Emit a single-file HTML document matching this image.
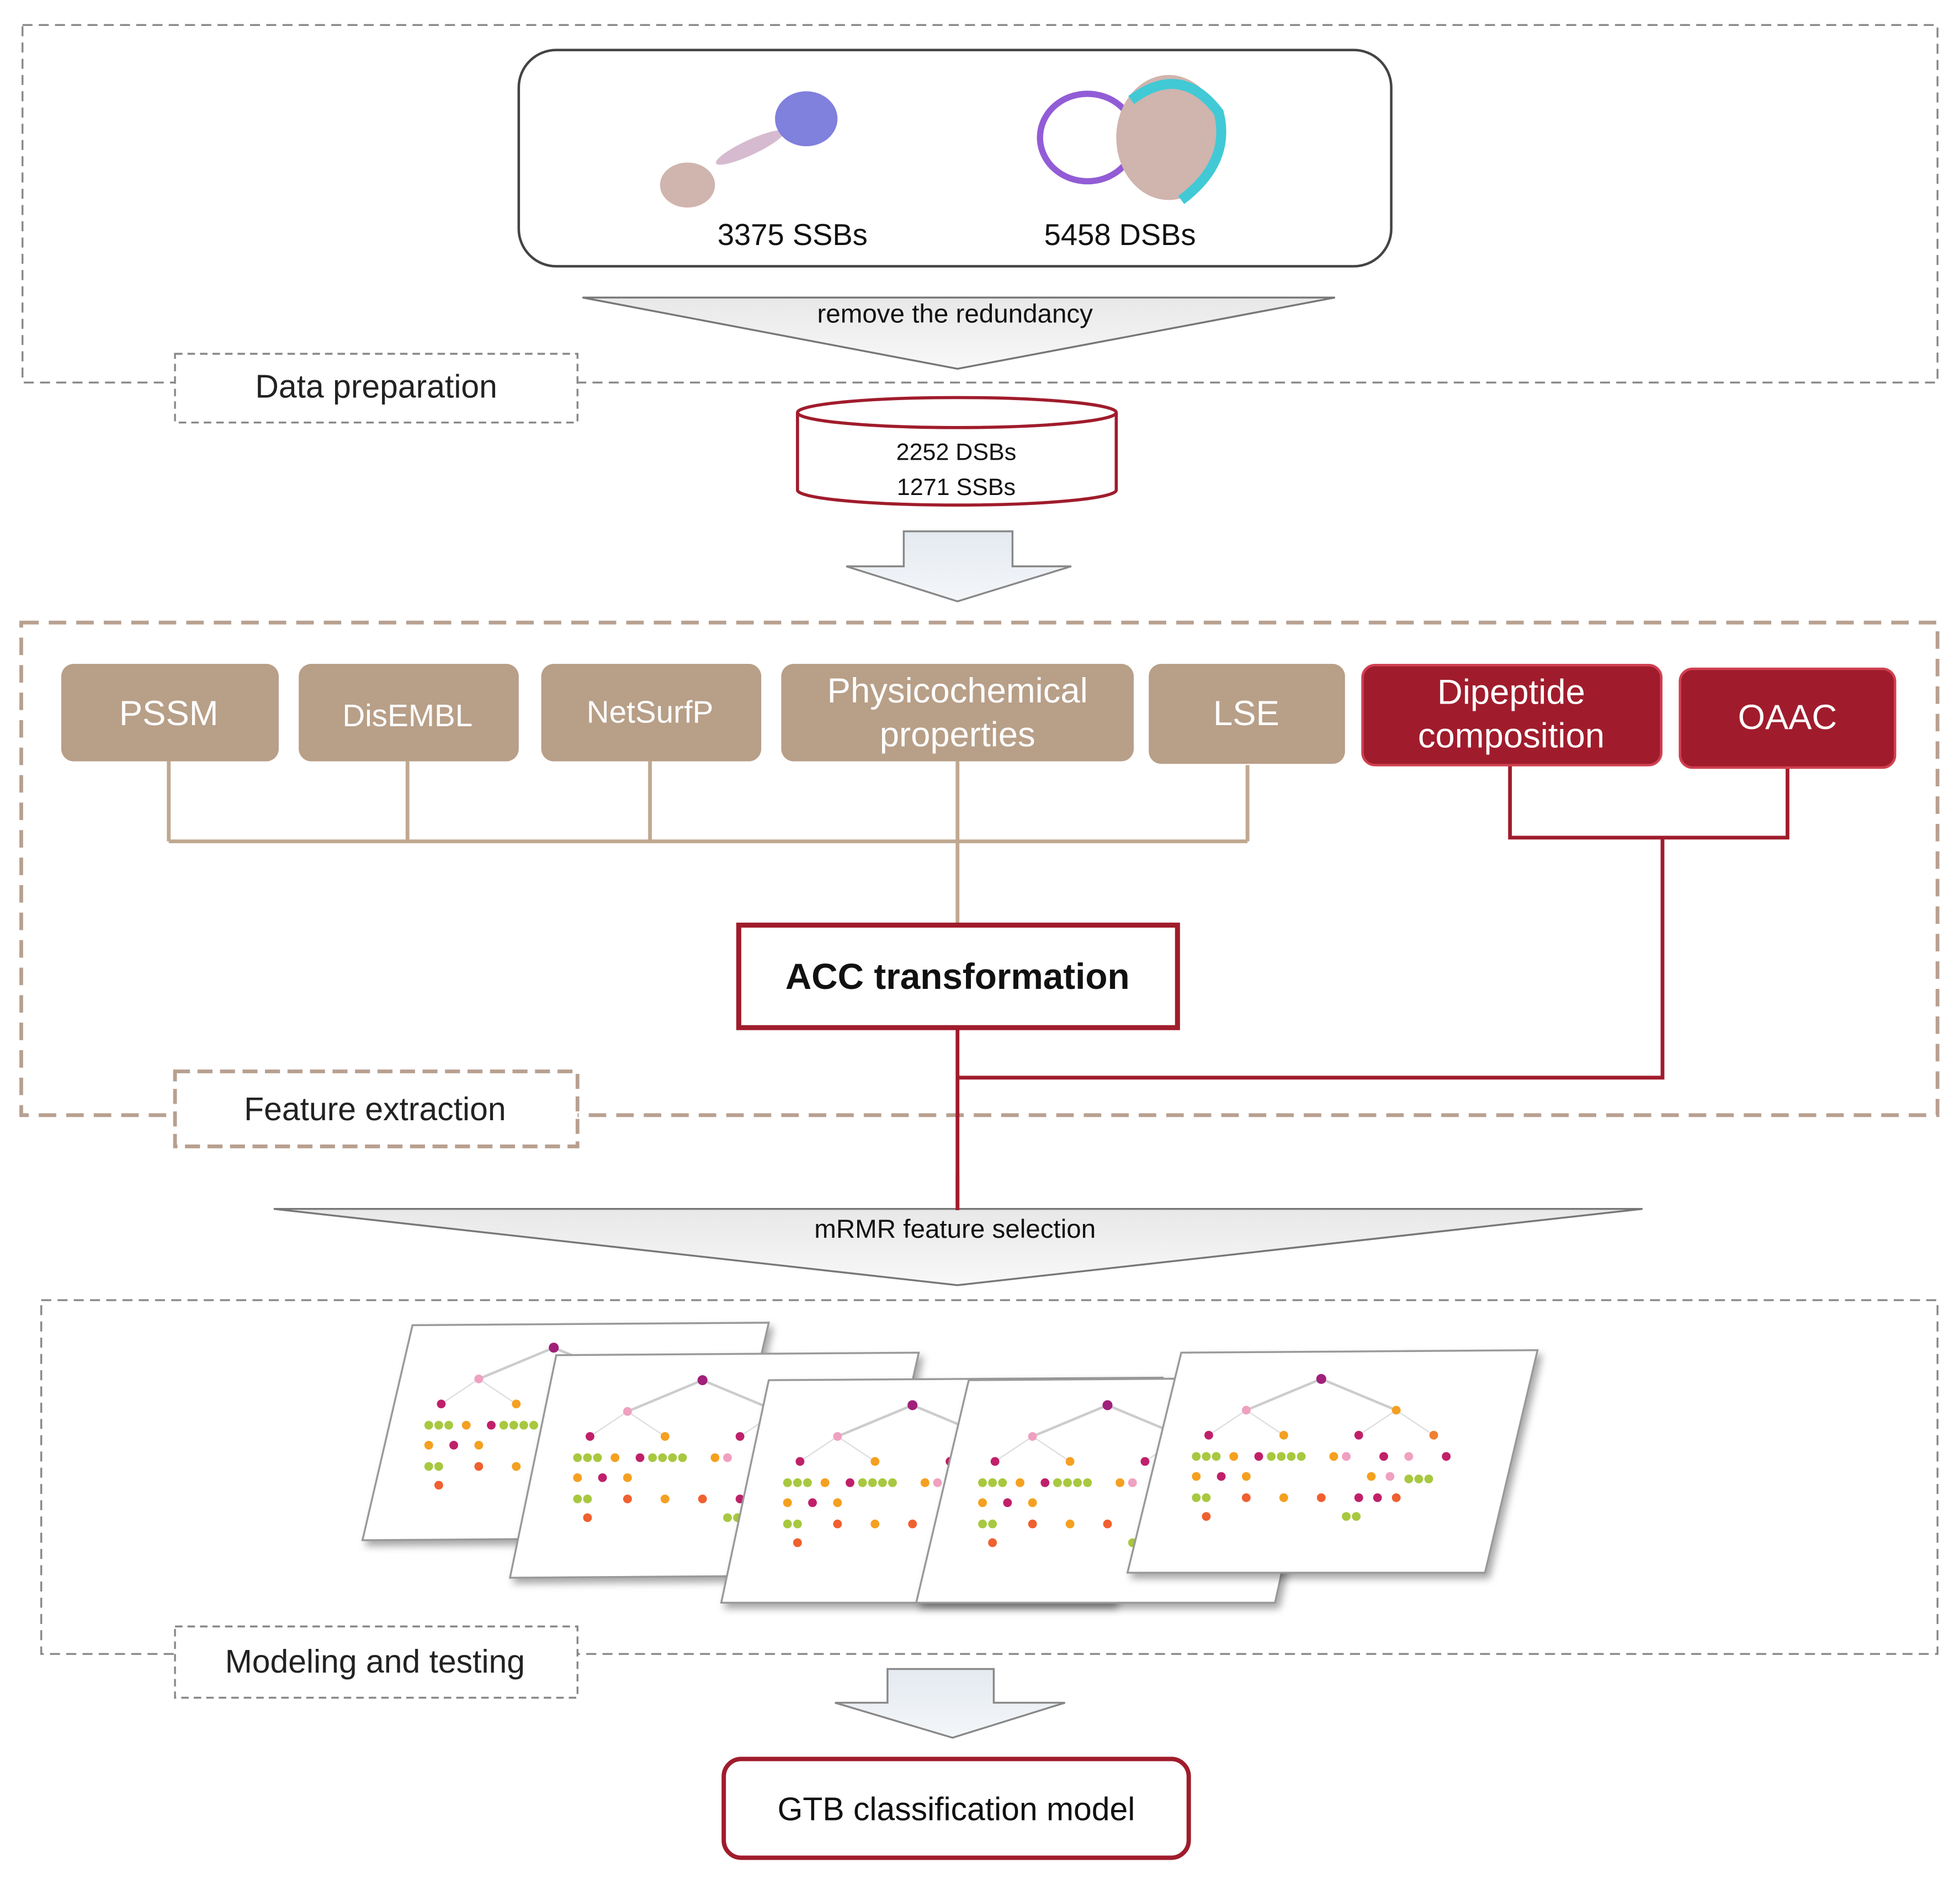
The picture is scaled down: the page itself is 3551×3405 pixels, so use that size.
<!DOCTYPE html>
<html><head><meta charset="utf-8"><style>
html,body{margin:0;padding:0;background:#fff;}
svg{display:block;}
text{font-family:"Liberation Sans",sans-serif;}
</style></head><body>
<svg width="3551" height="3405" viewBox="0 0 1568 1503" preserveAspectRatio="none" xmlns="http://www.w3.org/2000/svg">
<defs>
<linearGradient id="tri" x1="0" y1="0" x2="0" y2="1"><stop offset="0" stop-color="#e8e8e8"/><stop offset="1" stop-color="#f8f8f8"/></linearGradient>
<linearGradient id="arr" x1="0" y1="0" x2="0" y2="1"><stop offset="0" stop-color="#e4eaf0"/><stop offset="1" stop-color="#f4f6f9"/></linearGradient>
<g id="tree">
<line x1="0" y1="0" x2="-60" y2="25" stroke="#ccc" stroke-width="2"/>
<line x1="0" y1="0" x2="60" y2="25" stroke="#ccc" stroke-width="2"/>
<line x1="-60" y1="25" x2="-90" y2="45" stroke="#ddd"/><line x1="-60" y1="25" x2="-30" y2="45" stroke="#ddd"/>
<line x1="60" y1="25" x2="30" y2="45" stroke="#ddd"/><line x1="60" y1="25" x2="90" y2="45" stroke="#ddd"/>
<circle cx="0" cy="0" r="4" fill="#a0207a"/>
<circle cx="-60" cy="25" r="3.5" fill="#f0a0c0"/><circle cx="60" cy="25" r="3.5" fill="#f5a020"/>
<circle cx="-90" cy="45" r="3.5" fill="#c0206a"/><circle cx="-30" cy="45" r="3.5" fill="#f5a020"/><circle cx="30" cy="45" r="3.5" fill="#c0206a"/><circle cx="90" cy="45" r="3.5" fill="#f08030"/>
<g fill="#a8c840"><circle cx="-100" cy="62" r="3.5"/><circle cx="-92" cy="62" r="3.5"/><circle cx="-84" cy="62" r="3.5"/><circle cx="-40" cy="62" r="3.5"/><circle cx="-32" cy="62" r="3.5"/><circle cx="-24" cy="62" r="3.5"/><circle cx="-16" cy="62" r="3.5"/><circle cx="70" cy="80" r="3.5"/><circle cx="78" cy="80" r="3.5"/><circle cx="86" cy="80" r="3.5"/><circle cx="-100" cy="95" r="3.5"/><circle cx="-92" cy="95" r="3.5"/><circle cx="20" cy="110" r="3.5"/><circle cx="28" cy="110" r="3.5"/></g>
<g fill="#f5a020"><circle cx="-70" cy="62" r="3.5"/><circle cx="10" cy="62" r="3.5"/><circle cx="-100" cy="78" r="3.5"/><circle cx="-60" cy="78" r="3.5"/><circle cx="40" cy="78" r="3.5"/><circle cx="-30" cy="95" r="3.5"/></g>
<g fill="#c0206a"><circle cx="-50" cy="62" r="3.5"/><circle cx="50" cy="62" r="3.5"/><circle cx="100" cy="62" r="3.5"/><circle cx="30" cy="95" r="3.5"/><circle cx="45" cy="95" r="3.5"/><circle cx="-80" cy="78" r="3.5"/></g>
<g fill="#f06030"><circle cx="-92" cy="110" r="3.5"/><circle cx="0" cy="95" r="3.5"/><circle cx="60" cy="95" r="3.5"/><circle cx="-60" cy="95" r="3.5"/></g>
<g fill="#f0a0c0"><circle cx="20" cy="62" r="3.5"/><circle cx="70" cy="62" r="3.5"/><circle cx="55" cy="78" r="3.5"/></g>
</g>
</defs>

<!-- Data preparation -->
<rect x="18" y="20" width="1532" height="286" fill="none" stroke="#888" stroke-width="1.5" stroke-dasharray="8,5"/>
<rect x="140" y="283" width="322" height="55" fill="#fff" stroke="#888" stroke-width="1.5" stroke-dasharray="6,4"/>
<text x="301" y="318" font-size="26" text-anchor="middle" fill="#222">Data preparation</text>
<rect x="415" y="40" width="698" height="173" rx="30" fill="#fff" stroke="#444" stroke-width="2"/>
<!-- protein blobs -->
<g opacity="0.85">
<ellipse cx="550" cy="148" rx="22" ry="18" fill="#c8a8a0"/><ellipse cx="600" cy="118" rx="30" ry="6" fill="#d0b0c8" transform="rotate(-25 600 118)"/><ellipse cx="645" cy="95" rx="25" ry="22" fill="#6a6ad8"/>
<ellipse cx="870" cy="110" rx="38" ry="35" fill="none" stroke="#8040d0" stroke-width="5"/><ellipse cx="935" cy="110" rx="42" ry="50" fill="#c8a8a0"/><path d="M905 80 q40 -30 70 10 q10 40 -30 70" fill="none" stroke="#20c0d0" stroke-width="8"/>
</g>
<text x="634" y="196" font-size="24" text-anchor="middle" fill="#111">3375 SSBs</text>
<text x="896" y="196" font-size="24" text-anchor="middle" fill="#111">5458 DSBs</text>
<polygon points="466,238 1068,238 766,295" fill="url(#tri)" stroke="#777" stroke-width="1.5"/>
<text x="764" y="258" font-size="21" text-anchor="middle" fill="#111">remove the redundancy</text>

<!-- cylinder -->
<path d="M638 330 L638 392 A127.5 12 0 0 0 893 392 L893 330" fill="#fff" stroke="#a01c2c" stroke-width="2.5"/>
<ellipse cx="765.5" cy="330" rx="127.5" ry="12" fill="#fff" stroke="#a01c2c" stroke-width="2.5"/>
<text x="765" y="368" font-size="19" text-anchor="middle" fill="#111">2252  DSBs</text>
<text x="765" y="396" font-size="19" text-anchor="middle" fill="#111">1271  SSBs</text>

<polygon points="723,425 810,425 810,453 857,453 766,481 677,453 723,453" fill="url(#arr)" stroke="#888" stroke-width="1.5"/>

<!-- Feature extraction -->
<rect x="17" y="498" width="1533" height="394" fill="none" stroke="#b8a090" stroke-width="3" stroke-dasharray="14,8"/>
<rect x="140" y="857" width="322" height="60" fill="#fff" stroke="#b8a090" stroke-width="3" stroke-dasharray="12,6"/>
<text x="300" y="896" font-size="26" text-anchor="middle" fill="#222">Feature extraction</text>

<g fill="none" stroke="#c0a890" stroke-width="3">
<path d="M135 609 V673 M326 609 V673 M520 609 V673 M766 609 V740 M998 612 V673 M135 673 H998"/>
</g>
<g fill="none" stroke="#a01c2c" stroke-width="3">
<path d="M1208 612 V670 H1430 V614 M1330 670 V862 H766 M766 822 V965"/>
</g>
<g fill="#b89f88">
<rect x="49" y="531" width="174" height="78" rx="10"/>
<rect x="239" y="531" width="176" height="78" rx="10"/>
<rect x="433" y="531" width="176" height="78" rx="10"/>
<rect x="625" y="531" width="282" height="78" rx="10"/>
<rect x="919" y="531" width="157" height="80" rx="10"/>
</g>
<g fill="#a01c2c" stroke="#d04050" stroke-width="2">
<rect x="1090" y="532" width="239" height="80" rx="10"/>
<rect x="1344" y="535" width="172" height="79" rx="10"/>
</g>
<g fill="#fff" font-size="28" text-anchor="middle">
<text x="135" y="580">PSSM</text>
<text x="326" y="581" font-size="25">DisEMBL</text>
<text x="520" y="578" font-size="25">NetSurfP</text>
<text x="766" y="562">Physicochemical</text>
<text x="766" y="597">properties</text>
<text x="997" y="580">LSE</text>
<text x="1209" y="563">Dipeptide</text>
<text x="1209" y="598">composition</text>
<text x="1430" y="583">OAAC</text>
</g>
<rect x="591" y="740" width="351" height="82" fill="#fff" stroke="#a01c2c" stroke-width="4"/>
<text x="766" y="791" font-size="29" font-weight="bold" text-anchor="middle" fill="#111">ACC transformation</text>

<polygon points="219,967 1314,967 766,1028" fill="url(#tri)" stroke="#777" stroke-width="1.5"/>
<line x1="766" y1="940" x2="766" y2="968" stroke="#a01c2c" stroke-width="3"/>
<text x="764" y="990" font-size="21" text-anchor="middle" fill="#111">mRMR feature selection</text>

<!-- Modeling -->
<rect x="33" y="1040" width="1517" height="283" fill="none" stroke="#888" stroke-width="1.5" stroke-dasharray="8,5"/>
<rect x="140" y="1301" width="322" height="57" fill="#fff" stroke="#888" stroke-width="1.5" stroke-dasharray="6,4"/>
<text x="300" y="1338" font-size="26" text-anchor="middle" fill="#222">Modeling and testing</text>

<g stroke="#999" stroke-width="1.5" fill="#fff" style="filter:drop-shadow(3px 4px 3px rgba(0,0,0,0.35))">
<polygon points="330,1060 615,1058 575,1230 290,1232"/>
</g>
<use href="#tree" x="443" y="1078"/>
<polygon points="445,1084 735,1082 695,1260 408,1262" fill="#fff" stroke="#999" stroke-width="1.5" style="filter:drop-shadow(3px 4px 3px rgba(0,0,0,0.35))"/>
<use href="#tree" x="562" y="1104"/>
<polygon points="615,1104 930,1102 890,1282 577,1282" fill="#fff" stroke="#999" stroke-width="1.5" style="filter:drop-shadow(3px 4px 3px rgba(0,0,0,0.35))"/>
<use href="#tree" x="730" y="1124"/>
<polygon points="775,1104 1060,1102 1020,1282 733,1282" fill="#fff" stroke="#999" stroke-width="1.5" style="filter:drop-shadow(3px 4px 3px rgba(0,0,0,0.35))"/>
<use href="#tree" x="886" y="1124"/>
<polygon points="945,1082 1230,1080 1188,1258 902,1258" fill="#fff" stroke="#999" stroke-width="1.5" style="filter:drop-shadow(3px 4px 3px rgba(0,0,0,0.35))"/>
<use href="#tree" x="1057" y="1103"/>

<polygon points="710,1335 795,1335 795,1362 852,1362 762,1390 668,1362 710,1362" fill="url(#arr)" stroke="#888" stroke-width="1.5"/>
<rect x="579" y="1407" width="372" height="79" rx="14" fill="#fff" stroke="#a01c2c" stroke-width="3.5"/>
<text x="765" y="1456" font-size="26" text-anchor="middle" fill="#111">GTB classification model</text>
</svg>
</body></html>
